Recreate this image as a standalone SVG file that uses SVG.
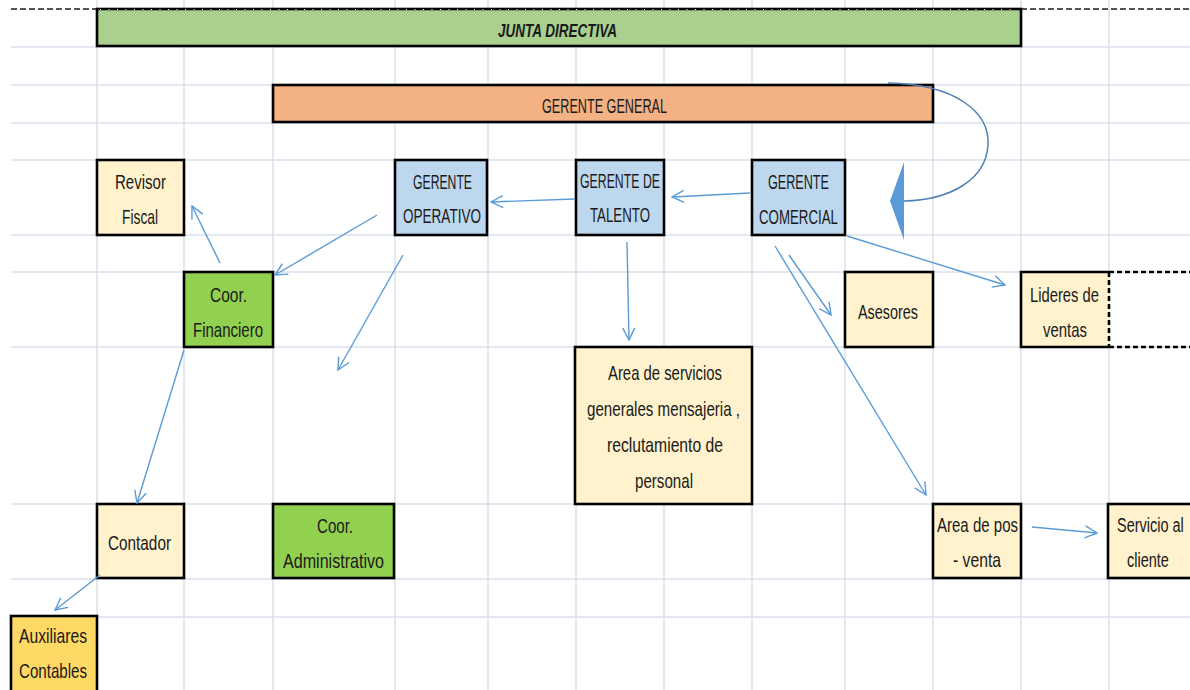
<svg xmlns="http://www.w3.org/2000/svg" width="1190" height="690" viewBox="0 0 1190 690">
<style>
.grid line{stroke:#d9dfee;stroke-width:1.5}
.box{stroke:#000;stroke-width:2.6}
.t{font-family:"Liberation Sans",Arial,sans-serif;font-size:21px;fill:#1a1a1a}
.ti{font-family:"Liberation Sans",Arial,sans-serif;font-size:19px;font-weight:bold;font-style:italic;fill:#1a1a1a}
.c{fill:none;stroke:#5b9bd5;stroke-width:1.4;marker-end:url(#ah)}
.y{fill:#fff2cc}.b{fill:#bdd7ee}.g{fill:#92d050}
</style>
<defs>
<marker id="ah" viewBox="0 0 14 14" refX="13" refY="7" markerWidth="14" markerHeight="14" markerUnits="userSpaceOnUse" orient="auto">
<path d="M1,1 L13,7 L1,13" fill="none" stroke="#5b9bd5" stroke-width="1.4"/>
</marker>
</defs>
<rect width="1190" height="690" fill="#fff"/>
<g class="grid">
<line x1="97" y1="0" x2="97" y2="690"/><line x1="184" y1="0" x2="184" y2="690"/><line x1="273" y1="0" x2="273" y2="690"/><line x1="395" y1="0" x2="395" y2="690"/><line x1="488" y1="0" x2="488" y2="690"/><line x1="576" y1="0" x2="576" y2="690"/><line x1="664" y1="0" x2="664" y2="690"/><line x1="752" y1="0" x2="752" y2="690"/><line x1="845" y1="0" x2="845" y2="690"/><line x1="933" y1="0" x2="933" y2="690"/><line x1="1021" y1="0" x2="1021" y2="690"/><line x1="1109" y1="0" x2="1109" y2="690"/>
<line x1="11" y1="47" x2="1190" y2="47"/><line x1="11" y1="85" x2="1190" y2="85"/><line x1="11" y1="123" x2="1190" y2="123"/><line x1="11" y1="160" x2="1190" y2="160"/><line x1="11" y1="235" x2="1190" y2="235"/><line x1="11" y1="272" x2="1190" y2="272"/><line x1="11" y1="347" x2="1190" y2="347"/><line x1="11" y1="504" x2="1190" y2="504"/><line x1="11" y1="579" x2="1190" y2="579"/><line x1="11" y1="617" x2="1190" y2="617"/>
</g>
<g id="top-dash" fill="none" stroke="#555" stroke-width="2" stroke-dasharray="6 3">
<line x1="11" y1="9" x2="97" y2="9"/><line x1="1021" y1="9" x2="1190" y2="9"/>
</g>
<g id="junta"><rect class="box" x="97" y="9" width="924" height="37" fill="#a9d08e"/><line x1="100" y1="9.5" x2="1018" y2="9.5" stroke="#fff" stroke-width="1" stroke-dasharray="1 7.5"/><text class="ti" x="498" y="37" textLength="119" lengthAdjust="spacingAndGlyphs">JUNTA DIRECTIVA</text></g>
<g id="gerente-general"><rect class="box" x="273" y="85" width="660" height="37" fill="#f4b183"/><text class="t" x="542" y="113" textLength="125" lengthAdjust="spacingAndGlyphs">GERENTE GENERAL</text></g>
<g id="revisor"><rect class="box y" x="97" y="160" width="87" height="75"/><text class="t" x="115" y="189" textLength="51" lengthAdjust="spacingAndGlyphs">Revisor</text><text class="t" x="122" y="224" textLength="36" lengthAdjust="spacingAndGlyphs">Fiscal</text></g>
<g id="operativo"><rect class="box b" x="395" y="160" width="92" height="75"/><text class="t" x="413" y="189" textLength="59" lengthAdjust="spacingAndGlyphs">GERENTE</text><text class="t" x="403" y="223" textLength="78" lengthAdjust="spacingAndGlyphs">OPERATIVO</text></g>
<g id="talento"><rect class="box b" x="576" y="160" width="88" height="75"/><text class="t" x="580" y="188" textLength="80" lengthAdjust="spacingAndGlyphs">GERENTE DE</text><text class="t" x="590" y="222" textLength="60" lengthAdjust="spacingAndGlyphs">TALENTO</text></g>
<g id="comercial"><rect class="box b" x="752" y="160" width="93" height="75"/><text class="t" x="768" y="189" textLength="61" lengthAdjust="spacingAndGlyphs">GERENTE</text><text class="t" x="759" y="224" textLength="79" lengthAdjust="spacingAndGlyphs">COMERCIAL</text></g>
<g id="financiero"><rect class="box g" x="184" y="272" width="89" height="75"/><text class="t" x="210" y="302" textLength="37" lengthAdjust="spacingAndGlyphs">Coor.</text><text class="t" x="193" y="337" textLength="70" lengthAdjust="spacingAndGlyphs">Financiero</text></g>
<g id="asesores"><rect class="box y" x="845" y="272" width="88" height="75"/><text class="t" x="858" y="319" textLength="60" lengthAdjust="spacingAndGlyphs">Asesores</text></g>
<g id="lideres"><rect x="1021" y="272" width="88" height="75" class="y"/><path d="M1109,272 H1021 V347 H1109" fill="none" stroke="#000" stroke-width="2.6"/><path d="M1109,272 H1190 M1109,347 H1190 M1109,272 V347" fill="none" stroke="#000" stroke-width="2.6" stroke-dasharray="5 3"/><text class="t" x="1030" y="302" textLength="69" lengthAdjust="spacingAndGlyphs">Lideres de</text><text class="t" x="1043" y="337" textLength="44" lengthAdjust="spacingAndGlyphs">ventas</text></g>
<g id="servicios"><rect class="box y" x="575" y="347" width="177" height="157"/><text class="t" x="608" y="380" textLength="114" lengthAdjust="spacingAndGlyphs">Area de servicios</text><text class="t" x="587" y="416" textLength="153" lengthAdjust="spacingAndGlyphs">generales mensajeria ,</text><text class="t" x="607" y="452" textLength="116" lengthAdjust="spacingAndGlyphs">reclutamiento de</text><text class="t" x="635" y="488" textLength="58" lengthAdjust="spacingAndGlyphs">personal</text></g>
<g id="contador"><rect class="box y" x="97" y="504" width="87" height="74"/><text class="t" x="108" y="550" textLength="63" lengthAdjust="spacingAndGlyphs">Contador</text></g>
<g id="administrativo"><rect class="box g" x="273" y="504" width="121" height="74"/><text class="t" x="317" y="533" textLength="36" lengthAdjust="spacingAndGlyphs">Coor.</text><text class="t" x="283" y="568" textLength="101" lengthAdjust="spacingAndGlyphs">Administrativo</text></g>
<g id="posventa"><rect class="box y" x="933" y="504" width="88" height="74"/><text class="t" x="937" y="532" textLength="81" lengthAdjust="spacingAndGlyphs">Area de pos</text><text class="t" x="953" y="567" textLength="48" lengthAdjust="spacingAndGlyphs">- venta</text></g>
<g id="servicio-cliente"><rect class="box y" x="1108" y="504" width="90" height="74"/><text class="t" transform="translate(1117,532) scale(0.69,1)">Servicio al</text><text class="t" transform="translate(1127,567) scale(0.69,1)">cliente</text></g>
<g id="auxiliares"><rect class="box" x="11" y="616" width="86" height="80" fill="#ffd966"/><text class="t" x="19" y="643" textLength="68" lengthAdjust="spacingAndGlyphs">Auxiliares</text><text class="t" x="19" y="678" textLength="68" lengthAdjust="spacingAndGlyphs">Contables</text></g>
<g id="connectors">
<line class="c" x1="220" y1="263" x2="192" y2="206"/>
<line class="c" x1="377" y1="215" x2="275" y2="275"/>
<line class="c" x1="403" y1="255" x2="338" y2="370"/>
<line class="c" x1="575" y1="199" x2="491" y2="202"/>
<line class="c" x1="750" y1="193" x2="672" y2="197"/>
<line class="c" x1="627" y1="242" x2="629" y2="340"/>
<line class="c" x1="847" y1="236" x2="1005" y2="285"/>
<line class="c" x1="789" y1="255" x2="831" y2="315"/>
<line class="c" x1="775" y1="246" x2="926" y2="495"/>
<line class="c" x1="184" y1="350" x2="137" y2="503"/>
<line class="c" x1="100" y1="575" x2="55" y2="610"/>
<line class="c" x1="1032" y1="527" x2="1097" y2="533"/>
<path d="M888,83 C955,84 990,112 988,145 C986,180 950,200 904,201" fill="none" stroke="#4a7fb5" stroke-width="1.5"/>
<polygon points="890,201 904,162 904,240" fill="#5b9bd5"/>
</g>
</svg>
